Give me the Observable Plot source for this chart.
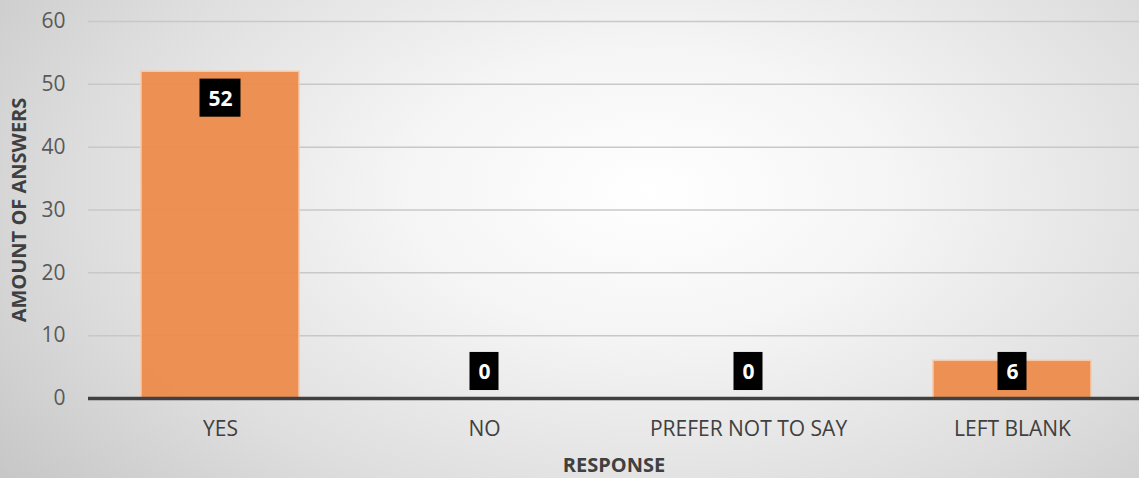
<!DOCTYPE html>
<html>
<head>
<meta charset="utf-8">
<script src="https://cdn.jsdelivr.net/npm/d3@7"></script>
<script src="https://cdn.jsdelivr.net/npm/@observablehq/plot@0.6"></script>
<style>
  html, body { margin: 0; padding: 0; }
  body {
    width: 1139px; height: 478px; overflow: hidden;
    background: radial-gradient(ellipse 72% 100% at 57% 40%, #ffffff 0%, #f5f5f5 30%, #dedede 68%, #c6c6c6 100%);
    font-family: "Open Sans", sans-serif;
  }
  svg { display: block; background: transparent !important; }
</style>
</head>
<body>
<div id="chart"></div>
<script>
const categories = ["YES", "NO", "PREFER NOT TO SAY", "LEFT BLANK"];
const values = [52, 0, 0, 6];
const yTicks = [0, 10, 20, 30, 40, 50, 60];
const xTitle = "RESPONSE";
const yTitle = "AMOUNT OF ANSWERS";

const data = categories.map((c, i) => ({cat: c, value: values[i]}));
// label placement: inside end, kept above the baseline
const labelY = d => Math.max(d.value - 4.2, 4.3);
const halfBox = 3.03;
const twoDigit = data.filter(d => String(d.value).length > 1);
const oneDigit = data.filter(d => String(d.value).length <= 1);

const chart = Plot.plot({
  width: 1139,
  height: 478,
  marginLeft: 88,
  marginRight: 0,
  marginTop: 21,
  marginBottom: 80,
  style: {background: "transparent", fontFamily: "Open Sans, sans-serif"},
  x: {domain: categories, range: [88, 1144], paddingInner: 0.4, paddingOuter: 0.2, axis: null},
  y: {domain: [0, 60], axis: null},
  marks: [
    Plot.ruleY(yTicks.filter(t => t > 0), {stroke: "#c8c8c8", strokeWidth: 1.5}),
    Plot.barY(data, {x: "cat", y: "value", fill: "#ED8B4C", fillOpacity: 0.95, stroke: "#F7C9A8", strokeWidth: 1.5}),
    Plot.ruleY([0], {stroke: "#404040", strokeWidth: 3.5}),
    Plot.barY(twoDigit, {x: "cat", y1: d => labelY(d) - halfBox, y2: d => labelY(d) + halfBox, insetLeft: 58.5, insetRight: 58.5, fill: "black"}),
    Plot.barY(oneDigit, {x: "cat", y1: d => labelY(d) - halfBox, y2: d => labelY(d) + halfBox, insetLeft: 64.5, insetRight: 64.5, fill: "black"}),
    Plot.text(data, {x: "cat", y: labelY, text: d => String(d.value), fill: "white", fontWeight: "bold", fontSize: 21, dy: 1}),
    Plot.axisY(yTicks, {tickSize: 0, tickPadding: 23, fontSize: 21, fill: "#595959", label: null, anchor: "left"}),
    Plot.axisX(categories, {tickSize: 0, tickPadding: 23, fontSize: 21, fill: "#404040", label: null, anchor: "bottom"}),
    Plot.text([xTitle], {frameAnchor: "bottom", textAnchor: "middle", lineAnchor: "middle", dy: 67, text: d => d, fontWeight: "bold", fontSize: 20, fill: "#404040"}),
    Plot.text([yTitle], {frameAnchor: "left", textAnchor: "middle", lineAnchor: "middle", dx: -69, rotate: -90, text: d => d, fontWeight: "bold", fontSize: 20, fill: "#404040"})
  ]
});
document.getElementById("chart").appendChild(chart);
</script>
</body>
</html>
